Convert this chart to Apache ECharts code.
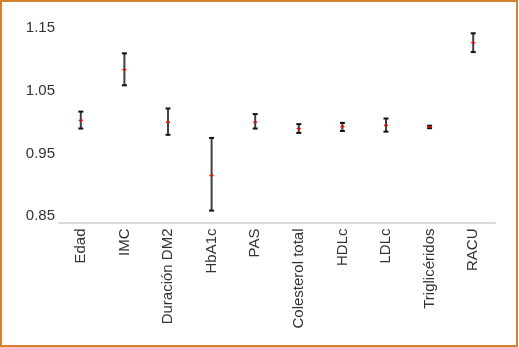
<!DOCTYPE html>
<html>
<head>
<meta charset="utf-8">
<script src="https://cdn.jsdelivr.net/npm/echarts@6/dist/echarts.min.js"></script>
<style>
html,body{margin:0;padding:0;background:#fff;}
#wrap{position:relative;width:519px;height:347px;}
#chart{position:absolute;left:0;top:0;width:519px;height:347px;}
#frame{position:absolute;left:0;top:0;width:518px;height:347px;box-sizing:border-box;border:2px solid #D5822F;pointer-events:none;}
</style>
</head>
<body>
<div id="wrap"><div id="chart"></div><div id="frame"></div></div>
<script>
const categories = ['Edad','IMC','Duración DM2','HbA1c','PAS','Colesterol total','HDLc','LDLc','Triglicéridos','RACU'];
const orValues = [1.003, 1.084, 1.000, 0.915, 1.000, 0.990, 0.993, 0.995, 0.9925, 1.127];
const lowerCI  = [0.990, 1.059, 0.980, 0.859, 0.990, 0.983, 0.986, 0.985, 0.9905, 1.112];
const upperCI  = [1.017, 1.110, 1.022, 0.975, 1.013, 0.997, 0.999, 1.006, 0.9945, 1.142];
const yTickLabels = ['0.85','0.95','1.05','1.15'];

const data = categories.map((c, i) => [i, lowerCI[i], upperCI[i], orValues[i]]);
const font = '"Liberation Sans", Arial, sans-serif';

const chart = echarts.init(document.getElementById('chart'), null, {renderer: 'canvas'});
chart.setOption({
  animation: false,
  backgroundColor: '#ffffff',
  grid: {left: 59, right: 24, top: 22, bottom: 124.5},
  xAxis: {
    type: 'category',
    data: categories,
    boundaryGap: true,
    axisLine: {show: true, lineStyle: {color: '#d9d9d9', width: 2}},
    axisTick: {show: false},
    axisLabel: {rotate: 90, fontSize: 15, color: '#333', fontFamily: font, margin: 6, interval: 0}
  },
  yAxis: {
    type: 'value',
    min: 0.84,
    max: 1.16,
    interval: 0.01,
    axisLine: {show: false},
    axisTick: {show: false},
    splitLine: {show: false},
    axisLabel: {
      fontSize: 15, color: '#333', fontFamily: font, margin: 4,
      formatter: function (v) {
        const s = v.toFixed(2);
        return yTickLabels.indexOf(s) >= 0 ? s : '';
      }
    }
  },
  series: [{
    type: 'custom',
    data: data,
    encode: {x: 0, y: [1, 2, 3]},
    renderItem: function (params, api) {
      const i = api.value(0);
      const lo = api.coord([i, api.value(1)]);
      const hi = api.coord([i, api.value(2)]);
      const mid = api.coord([i, api.value(3)]);
      const x = lo[0];
      return {
        type: 'group',
        children: [
          {type: 'line', shape: {x1: x, y1: lo[1], x2: x, y2: hi[1]}, style: {stroke: '#404040', lineWidth: 2}},
          {type: 'line', shape: {x1: x - 2.5, y1: lo[1], x2: x + 2.5, y2: lo[1]}, style: {stroke: '#111', lineWidth: 2}},
          {type: 'line', shape: {x1: x - 2.5, y1: hi[1], x2: x + 2.5, y2: hi[1]}, style: {stroke: '#111', lineWidth: 2}},
          {type: 'line', shape: {x1: x - 2, y1: mid[1], x2: x + 2, y2: mid[1]}, style: {stroke: '#ff0000', lineWidth: 1.5}}
        ]
      };
    }
  }]
});
</script>
</body>
</html>
